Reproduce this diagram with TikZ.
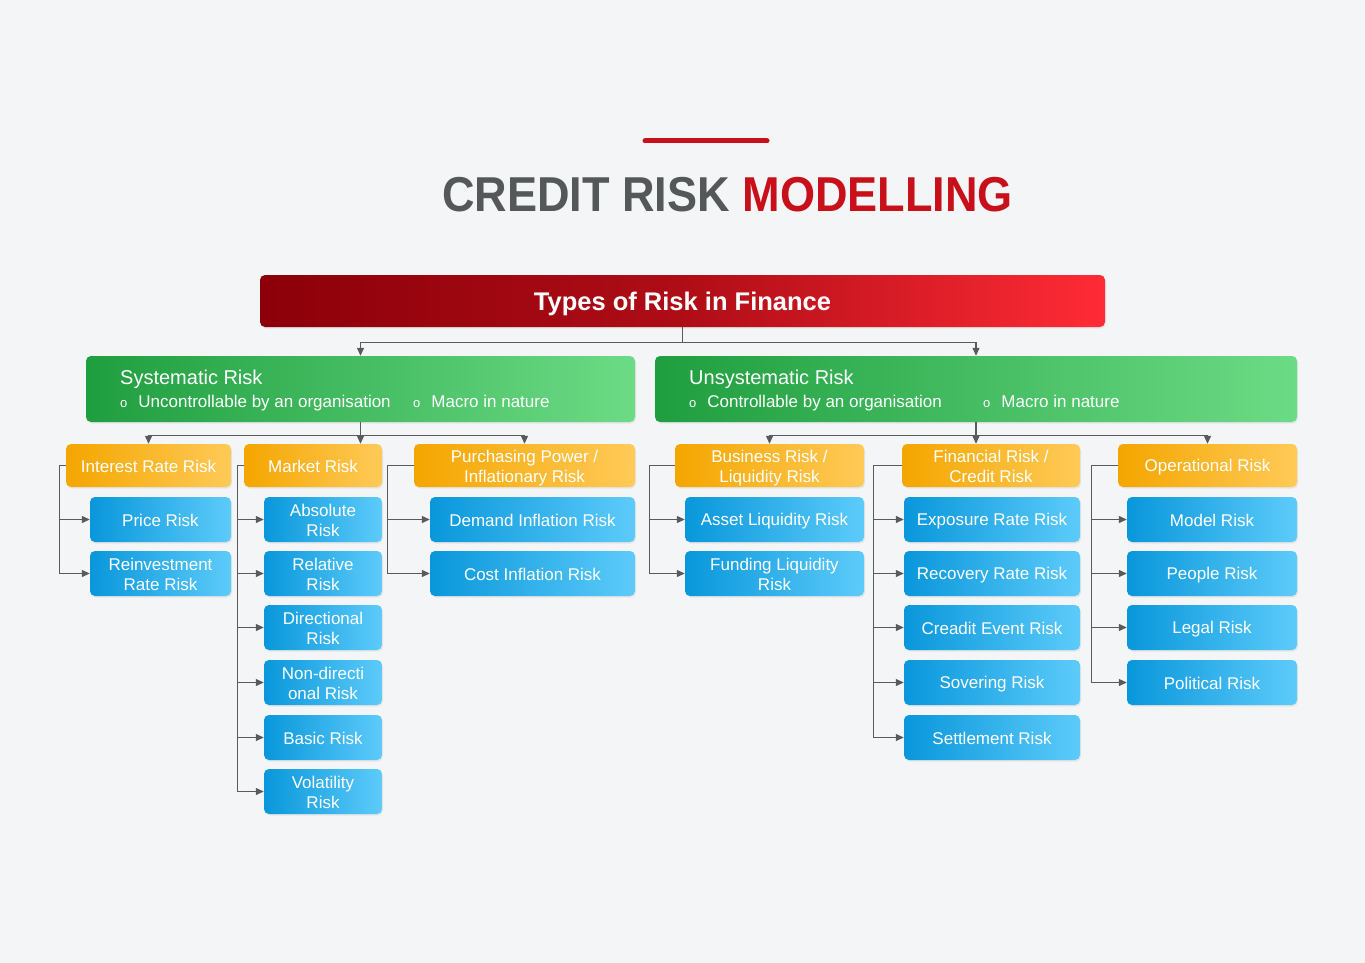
\documentclass[tikz,border=0pt]{standalone}
\usepackage{fontspec}
\usepackage{graphicx}
\setmainfont{Liberation Sans}
\usetikzlibrary{arrows.meta,shadows,calc}
\definecolor{bg}{HTML}{F4F5F7}
\definecolor{titlegray}{HTML}{555859}
\definecolor{titlered}{HTML}{C8101A}
\definecolor{redL}{HTML}{8C0009}
\definecolor{redR}{HTML}{FF2B36}
\definecolor{greenL}{HTML}{1F9E3F}
\definecolor{greenR}{HTML}{6CDB85}
\definecolor{orL}{HTML}{F4A600}
\definecolor{orR}{HTML}{FFCA58}
\definecolor{blueL}{HTML}{0997DB}
\definecolor{blueR}{HTML}{5DCBFA}
\definecolor{lineC}{HTML}{5A5A5A}
\newcommand{\bul}{{\fontsize{13}{13}\selectfont o}\hspace{11pt}}
\newcommand{\twol}[2]{\raisebox{2.9pt}[0pt][0pt]{\begin{tabular}[t]{@{}c@{}}#1\\#2\end{tabular}}}
\begin{document}
\begin{tikzpicture}[x=1pt,y=-1pt,
  box/.style={rounded corners=5pt, inner sep=0pt, text=white, align=center,
    font=\fontsize{17}{20}\selectfont,
    drop shadow={opacity=0.13,shadow xshift=1pt,shadow yshift=-1.5pt}},
  one/.style={execute at begin node={\rule{0pt}{16.5pt}},
    execute at end node={\rule[-3.5pt]{0pt}{3.5pt}}},
  bluebox/.style={box, left color=blueL, right color=blueR, minimum height=45pt},
  orangebox/.style={box, left color=orL, right color=orR, minimum height=43pt},
  greenbox/.style={box, left color=greenL, right color=greenR, minimum height=66pt},
  conn/.style={draw=lineC, line width=1.2pt, -{Triangle[length=8pt,width=7pt]}},
  boxtitle/.style={anchor=base west, inner sep=0pt, text=white, font=\fontsize{20}{24}\selectfont},
  boxbullet/.style={anchor=base west, inner sep=0pt, text=white, font=\fontsize{17}{20}\selectfont},
]
% background / bounding box
\path[fill=bg] (0,0) rectangle (1365,963);

% title
\draw[titlered, line width=5pt, line cap=round] (645,141) -- (767,141);
\node[inner sep=0pt, font=\bfseries\fontsize{49}{55}\selectfont] (title) at (727.5,195)
  {\scalebox{0.92}[1]{\textcolor{titlegray}{CREDIT RISK} \textcolor{titlered}{MODELLING}}};

% top box
\node[box, left color=redL, right color=redR, middle color=redL!70!redR,
  minimum width=845pt, minimum height=52pt,
  text height=20pt, text depth=2pt,
  font=\bfseries\fontsize{25.5}{28}\selectfont] (top) at (682.5,301) {Types of Risk in Finance};

% green boxes
\node[greenbox, minimum width=549pt] (sys) at (360.5,389) {};
\node[boxtitle] (systitle) at (120,384.5) {Systematic Risk};
\node[boxbullet] (sysb1) at (120,407.5) {\bul Uncontrollable by an organisation};
\node[boxbullet] (sysb2) at (413,407.5) {\bul Macro in nature};

\node[greenbox, minimum width=642pt] (unsys) at (976,389) {};
\node[boxtitle] (unsystitle) at (689,384.5) {Unsystematic Risk};
\node[boxbullet] (unsysb1) at (689,407.5) {\bul Controllable by an organisation};
\node[boxbullet] (unsysb2) at (983,407.5) {\bul Macro in nature};

% orange boxes
\node[orangebox, one, minimum width=165pt] (o1) at (148.5,465.5) {Interest Rate Risk};
\node[orangebox, one, minimum width=138pt] (o2) at (313,465.5) {Market Risk};
\node[orangebox, minimum width=221pt] (o3) at (524.5,465.5) {\twol{Purchasing Power /}{Inflationary Risk}};
\node[orangebox, minimum width=189pt] (o4) at (769.5,465.5) {\twol{Business Risk /}{Liquidity Risk}};
\node[orangebox, minimum width=178pt] (o5) at (991,465.5) {\twol{Financial Risk /}{Credit Risk}};
\node[orangebox, one, minimum width=179pt] (o6) at (1207.5,465.5) {Operational Risk};

% blue boxes column 1
\node[bluebox, one, minimum width=141pt] (b11) at (160.5,519.5) {Price Risk};
\node[bluebox, minimum width=141pt] (b12) at (160.5,573.5) {\twol{Reinvestment}{Rate Risk}};
% column 2
\node[bluebox, minimum width=118pt] (b21) at (323,519.5) {\twol{Absolute}{Risk}};
\node[bluebox, minimum width=118pt] (b22) at (323,573.5) {\twol{Relative}{Risk}};
\node[bluebox, minimum width=118pt] (b23) at (323,627.5) {\twol{Directional}{Risk}};
\node[bluebox, minimum width=118pt] (b24) at (323,682.5) {\twol{Non-directi}{onal Risk}};
\node[bluebox, one, minimum width=118pt] (b25) at (323,737.5) {Basic Risk};
\node[bluebox, minimum width=118pt] (b26) at (323,791.5) {\twol{Volatility}{Risk}};
% column 3
\node[bluebox, one, minimum width=205pt] (b31) at (532.5,519.5) {Demand Inflation Risk};
\node[bluebox, one, minimum width=205pt] (b32) at (532.5,573.5) {Cost Inflation Risk};
% column 4
\node[bluebox, one, minimum width=179pt] (b41) at (774.5,519.5) {Asset Liquidity Risk};
\node[bluebox, minimum width=179pt] (b42) at (774.5,573.5) {\twol{Funding Liquidity}{Risk}};
% column 5
\node[bluebox, one, minimum width=176pt] (b51) at (992,519.5) {Exposure Rate Risk};
\node[bluebox, one, minimum width=176pt] (b52) at (992,573.5) {Recovery Rate Risk};
\node[bluebox, one, minimum width=176pt] (b53) at (992,627.5) {Creadit Event Risk};
\node[bluebox, one, minimum width=176pt] (b54) at (992,682.5) {Sovering Risk};
\node[bluebox, one, minimum width=176pt] (b55) at (992,737.5) {Settlement Risk};
% column 6
\node[bluebox, one, minimum width=170pt] (b61) at (1212,519.5) {Model Risk};
\node[bluebox, one, minimum width=170pt] (b62) at (1212,573.5) {People Risk};
\node[bluebox, one, minimum width=170pt] (b63) at (1212,627.5) {Legal Risk};
\node[bluebox, one, minimum width=170pt] (b64) at (1212,682.5) {Political Risk};

% connectors: top level
\draw[conn] (top.south) -- ++(0,15) -| (sys.north);
\draw[conn] (top.south) -- ++(0,15) -| (unsys.north);

% systematic to orange
\coordinate (sj) at ($(sys.south)+(0,13)$);
\draw[conn] (sys.south) -- (sys.south |- o2.north);
\draw[conn] (sj) -| (o1.north);
\draw[conn] (sj) -| (o3.north);

% unsystematic to orange
\coordinate (uj) at ($(unsys.south)+(0,13)$);
\draw[conn] (unsys.south) -- (unsys.south |- o5.north);
\draw[conn] (uj) -| (o4.north);
\draw[conn] (uj) -| (o6.north);

% column connectors
\foreach \c in {b11,b12} \draw[conn] (o1.west) -- ++(-6,0) |- (\c.west);
\foreach \c in {b21,b22,b23,b24,b25,b26} \draw[conn] (o2.west) -- ++(-6,0) |- (\c.west);
\foreach \c in {b31,b32} \draw[conn] (o3.west) -- ++(-26,0) |- (\c.west);
\foreach \c in {b41,b42} \draw[conn] (o4.west) -- ++(-25,0) |- (\c.west);
\foreach \c in {b51,b52,b53,b54,b55} \draw[conn] (o5.west) -- ++(-28,0) |- (\c.west);
\foreach \c in {b61,b62,b63,b64} \draw[conn] (o6.west) -- ++(-26,0) |- (\c.west);
\end{tikzpicture}
\end{document}
